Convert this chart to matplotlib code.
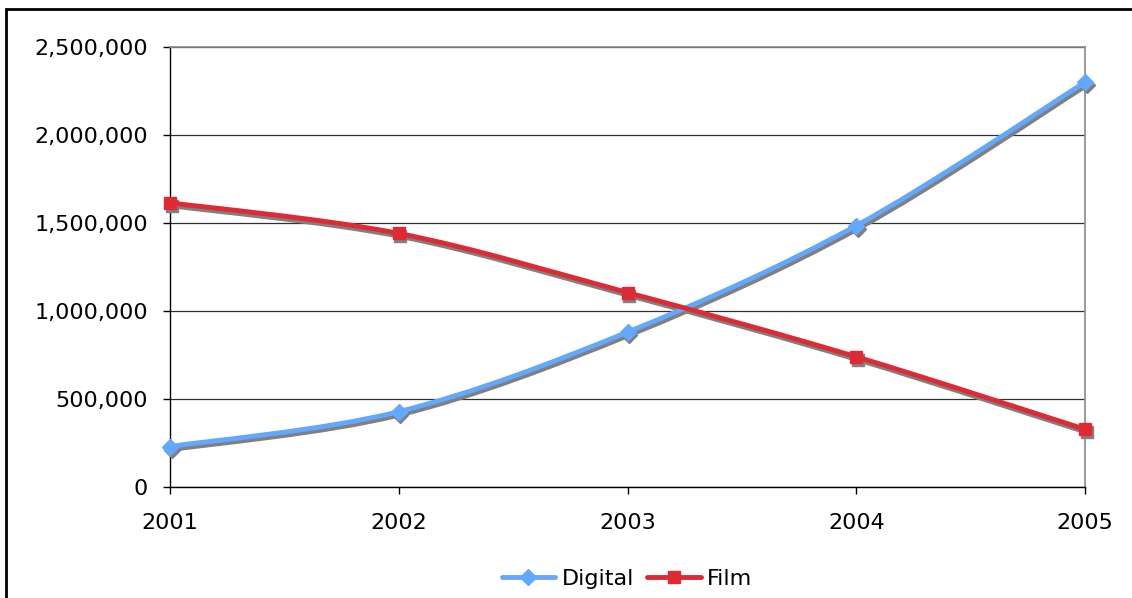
import numpy as np
import matplotlib
matplotlib.use("Agg")
import matplotlib.pyplot as plt
from matplotlib.path import Path
from matplotlib.patches import PathPatch, Rectangle
from matplotlib.lines import Line2D
from matplotlib.transforms import ScaledTranslation
from matplotlib.ticker import FuncFormatter

years = [2001, 2002, 2003, 2004, 2005]
digital = [230000, 428000, 880000, 1485000, 2300000]
film = [1615000, 1441000, 1105000, 740000, 328000]

BLUE = "#62A8FF"
RED = "#DD2A35"
SHADOW = "#808080"
FS = 16
LW = 3.5


def smooth_path(x, y):
    # cubic bezier through every point, excel-style smoothing
    pts = np.column_stack([x, y]).astype(float)
    n = len(pts)
    verts = [pts[0]]
    codes = [Path.MOVETO]
    for i in range(n - 1):
        p0 = pts[max(i - 1, 0)]
        p1 = pts[i]
        p2 = pts[i + 1]
        p3 = pts[min(i + 2, n - 1)]
        c1 = p1 + (p2 - p0) / 6.0
        c2 = p2 - (p3 - p1) / 6.0
        verts += [c1, c2, p2]
        codes += [Path.CURVE4] * 3
    return Path(verts, codes)


fig = plt.figure(figsize=(11.32, 5.98), dpi=100)
ax = fig.add_axes([170 / 1132, 111 / 598, 915 / 1132, 440 / 598])

shift = ax.transData + ScaledTranslation(1.2 / 72, -2.2 / 72, fig.dpi_scale_trans)

series = [
    ("Digital", digital, BLUE, "D", 8.0),
    ("Film", film, RED, "s", 8.5),
]

# gray drop shadows first, then the coloured series on top
for name, vals, color, mk, ms in series:
    ax.add_patch(PathPatch(smooth_path(years, vals), fill=False, edgecolor=SHADOW,
                           lw=LW, transform=shift, zorder=3, capstyle="butt"))
    ax.plot(years, vals, linestyle="none", marker=mk, ms=ms, color=SHADOW,
            transform=shift, zorder=3, clip_on=False)

for name, vals, color, mk, ms in series:
    ax.add_patch(PathPatch(smooth_path(years, vals), fill=False, edgecolor=color,
                           lw=LW, zorder=4, capstyle="butt"))
    ax.plot(years, vals, linestyle="none", marker=mk, ms=ms, color=color,
            zorder=5, clip_on=False)

ax.set_xlim(2001, 2005)
ax.set_ylim(0, 2500000)
ax.set_xticks(years)
ax.set_xticklabels([str(y) for y in years])
ax.set_yticks(np.arange(0, 2500001, 500000))
ax.yaxis.set_major_formatter(FuncFormatter(lambda v, p: f"{v:,.0f}"))

ax.grid(axis="y", color="#303030", lw=0.9, zorder=1)
ax.set_axisbelow(True)
for side in ["top", "right"]:
    ax.spines[side].set_color("#8a8a8a")
    ax.spines[side].set_linewidth(1.2)
for side in ["left", "bottom"]:
    ax.spines[side].set_color("black")
    ax.spines[side].set_linewidth(1.0)

ax.tick_params(axis="y", direction="out", length=5, width=1.0, pad=11, labelsize=FS, colors="black")
ax.tick_params(axis="x", direction="out", length=5, width=1.0, pad=14, labelsize=FS, colors="black")

handles = [
    Line2D([], [], color=BLUE, lw=LW, marker="D", ms=8, solid_capstyle="round"),
    Line2D([], [], color=RED, lw=LW, marker="s", ms=8.5, solid_capstyle="round"),
]
fig.legend(handles, ["Digital", "Film"], loc="center", bbox_to_anchor=(627 / 1132, 19 / 598),
           ncol=2, frameon=False, fontsize=FS, handlelength=2.4, handletextpad=0.3,
           columnspacing=0.6, borderaxespad=0)

# outer chart border
fig.patches.append(Rectangle((6 / 1132, -0.05), 1.2, 1.05 - 9 / 598, transform=fig.transFigure,
                             fill=False, edgecolor="black", lw=2.0))

fig.savefig("out.png", dpi=100, facecolor="white")
